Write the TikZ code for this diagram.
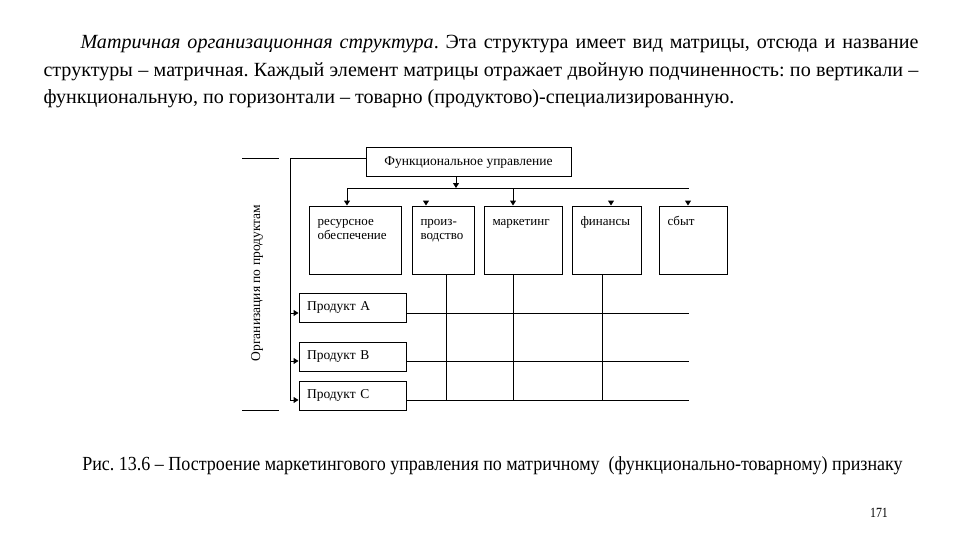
\documentclass[tikz,border=0pt]{standalone}
\usepackage{fontspec}
\setmainfont{Liberation Serif}
\usetikzlibrary{arrows.meta,calc}
\frenchspacing
\begin{document}
\begin{tikzpicture}[x=1pt,y=-1pt,
  line width=1pt,
  box/.style={draw, line width=1pt, inner sep=0pt},
  dfont/.style={font=\fontsize{13.5}{15}\selectfont},
  arr/.style={-{Triangle[length=5pt,width=6pt]}},
  lbl/.style={anchor=north west, inner sep=0pt, align=left, font=\fontsize{13}{14}\selectfont, xshift=8.5pt, yshift=-10pt}]
\useasboundingbox (0,0) rectangle (960,540);
\fill[white] (0,0) rectangle (960,540);

% paragraph
\node[anchor=north west, inner sep=0pt, text width=875pt, align=justify,
      font=\fontsize{20.1}{27.5}\selectfont] (para) at (43,35)
 {\hspace*{37pt}\textit{Матричная организационная структура}. Эта структура имеет вид матрицы, отсюда и название структуры – матричная. Каждый элемент матрицы отражает двойную подчиненность: по вертикали – функциональную, по горизонтали – товарно (продуктово)-специализированную.};

% top box
\node[box, dfont, minimum width=205pt, minimum height=29pt] (fu) at (468.5,162.5) {Функциональное управление};

% function boxes
\node[box, minimum width=92pt, minimum height=68pt, label={[lbl]north west:\strut ресурсное\\обеспечение}] (res) at (355,240) {};
\node[box, minimum width=62pt, minimum height=68pt, label={[lbl]north west:\strut произ-\\водство}] (prd) at (443,240) {};
\node[box, minimum width=78pt, minimum height=68pt, label={[lbl]north west:\strut маркетинг}] (mkt) at (523,240) {};
\node[box, minimum width=69pt, minimum height=68pt, label={[lbl]north west:\strut финансы}] (fin) at (606.5,240) {};
\node[box, minimum width=68pt, minimum height=68pt, label={[lbl]north west:\strut сбыт}] (sb) at (693,240) {};

% product boxes
\node[box, dfont, minimum width=107pt, minimum height=29pt, text width=91pt, inner xsep=8pt, align=left] (pA) at (352.5,307.5) {Продукт А};
\node[box, dfont, minimum width=107pt, minimum height=29pt, text width=91pt, inner xsep=8pt, align=left] (pB) at (352.5,356.5) {Продукт В};
\node[box, dfont, minimum width=107pt, minimum height=29pt, text width=91pt, inner xsep=8pt, align=left] (pC) at (352.5,395.5) {Продукт С};

% side label
\node[dfont, rotate=90] (org) at (257,283) {Организация по продуктам};

% coordinates
\coordinate (tl) at (290,159);
\coordinate (bl) at (290,400);
\coordinate (hl) at (347,188);
\coordinate (hr) at (689,188);
\coordinate (fa) at (456,188);
\coordinate (ma) at (513,188);

% left feed line
\draw (fu.west |- tl) -- (tl) -- (bl);
\draw[arr] (tl |- 0,313) -- (pA.west |- 0,313);
\draw[arr] (tl |- 0,361) -- (pB.west |- 0,361);
\draw[arr] (bl) -- (pC.west |- bl);

% top distribution
\draw[arr] (fu.south -| fa) -- (fa);
\draw (hl) -- (hr);
\draw[arr] (hl) -- (res.north -| hl);
\draw[arr] (ma) -- (mkt.north -| ma);
\draw[arr] (426,201) -- (prd.north -| 426,0);
\draw[arr] (611,201) -- (fin.north -| 611,0);
\draw[arr] (688,201) -- (sb.north -| 688,0);

% matrix lines
\draw (prd.south -| 446,0) -- (446,400);
\draw (mkt.south -| 513,0) -- (513,400);
\draw (fin.south -| 602,0) -- (602,400);
\draw (pA.east |- 0,313) -- (689,313);
\draw (pB.east |- 0,361) -- (689,361);
\draw (pC.east |- 0,400) -- (689,400);

% bracket ends
\coordinate (bt1) at (242,159); \coordinate (bt2) at (279,159);
\coordinate (bb1) at (242,410); \coordinate (bb2) at (279,410);
\draw (bt1) -- (bt2);
\draw (bb1) -- (bb2);

% caption
\node[inner sep=0pt, font=\fontsize{20}{22}\selectfont] (cap) at (492.5,466)
 {\scalebox{0.9}[1]{Рис. 13.6 – Построение маркетингового управления по матричному \ (функционально-товарному) признаку}};
\node[inner sep=0pt, font=\fontsize{14}{16}\selectfont] (pg) at (879,513) {\scalebox{0.85}[1]{171}};
\end{tikzpicture}
\end{document}
